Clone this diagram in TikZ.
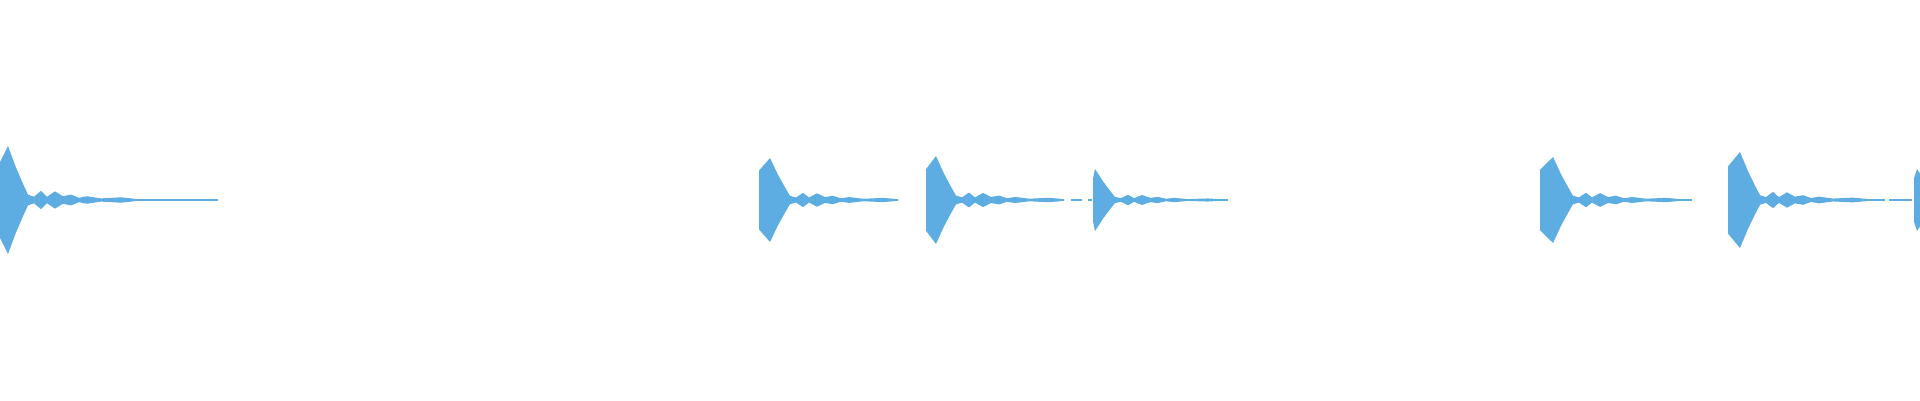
\documentclass[tikz,border=0pt]{standalone}
\usetikzlibrary{positioning}
\definecolor{wave}{RGB}{94,173,226}
\tikzset{every picture/.style={line width=0.75pt}}
% one decaying burst: x start, peak offset, peak amplitude, tail length
\newcommand{\burst}[4]{%
\begin{scope}[shift={(#1,200)},yscale=#3]
\fill[wave] (0,0.7) -- (#2,1) -- (#2+8,0.6) -- (#2+15,0.3) -- (#2+20,0.1) -- (#2+26,0.06) -- (#2+33,0.17) -- (#2+39,0.06) -- (#2+47,0.16) -- (#2+55,0.07) -- (#2+63,0.1) -- (#2+71,0.04) -- (#2+79,0.07) -- (#2+93,0.03) -- (#2+113,0.05) -- (#2+128,0.02)
 -- (#2+128,-0.02) -- (#2+113,-0.05) -- (#2+93,-0.03) -- (#2+79,-0.07) -- (#2+71,-0.04) -- (#2+63,-0.1) -- (#2+55,-0.07) -- (#2+47,-0.16) -- (#2+39,-0.06) -- (#2+33,-0.17) -- (#2+26,-0.06) -- (#2+20,-0.1) -- (#2+15,-0.3) -- (#2+8,-0.6) -- (#2,-1) -- (0,-0.7) -- cycle;
\end{scope}
\draw[wave,line width=0.9pt] (#1,200) -- ++(#4,0);}

\begin{document}
\begin{tikzpicture}[x=0.75pt,y=0.75pt,yscale=-1,xscale=1]
\useasboundingbox (0,0) rectangle (1920,400);

%Bursts
\burst{0}{8}{54}{218}
\burst{759}{11}{42}{133}
\burst{926}{10}{44}{135}
\burst{1093}{2}{31}{135}
\burst{1540}{13}{43}{152}
\burst{1728}{12}{48}{157}
\burst{1914}{3}{31}{6}

%Gaps in the tails
\draw[wave,line width=0.9pt] (1071,200) -- (1082,200) (1088,200) -- (1092,200);
\draw[wave,line width=0.9pt] (1889,200) -- (1912,200);
\end{tikzpicture}
\end{document}
